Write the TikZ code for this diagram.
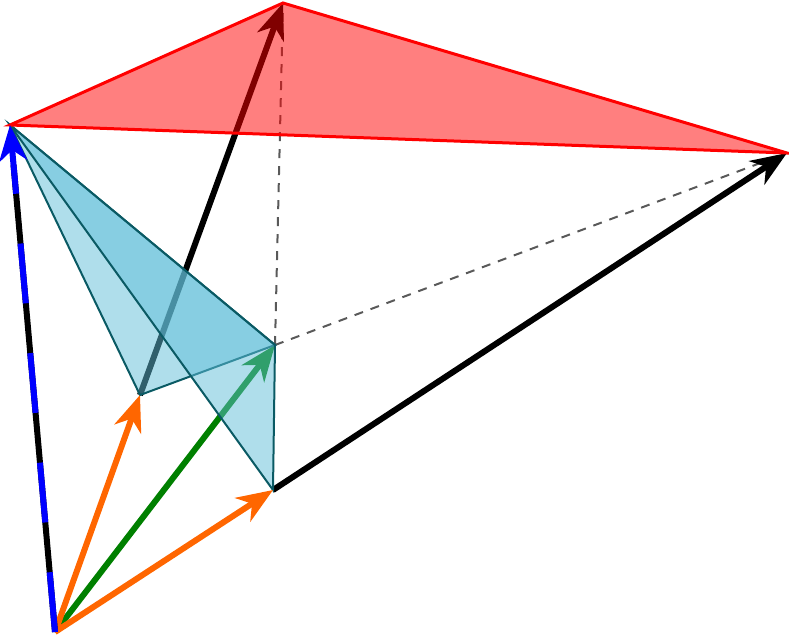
\documentclass[tikz,border=0pt]{standalone}
\usetikzlibrary{arrows.meta}
\definecolor{facefill}{RGB}{96,190,216}
\definecolor{faceline}{RGB}{10,90,100}
\definecolor{vecorange}{RGB}{255,102,0}
\begin{document}
\begin{tikzpicture}[x=1pt, y=-1pt,
        vec/.style={line width=6pt, -{Stealth[length=36pt, width=28pt, inset=11pt]}},
        face/.style={draw=faceline, line width=2pt, fill=facefill, fill opacity=0.5},
        guide/.style={draw=black!65, line width=2pt, dash pattern=on 9pt off 8pt}
    ]
        \useasboundingbox (0,0) rectangle (789,638);
        \coordinate (o) at (55,632);
        \coordinate (a) at (10,125);
        \coordinate (p) at (283,3);
        \coordinate (q) at (787,153);
        \coordinate (b) at (140,395);
        \coordinate (c) at (273,490);
        \coordinate (g) at (275,345);

        \draw[guide] (g) -- (p);
        \draw[guide] (g) -- (q);
        \draw[vec, black] (b) -- (p);
        \draw[vec, black] (c) -- (q);
        \draw[vec, green!50!black] (o) -- (g);
        \draw[face] (a) -- (b) -- (g) -- cycle;
        \draw[face] (a) -- (c) -- (g) -- cycle;
        \draw[line width=3pt, red, fill=red, fill opacity=0.5] (a) -- (p) -- (q) -- cycle;
        \draw[vec, vecorange] (o) -- (b);
        \draw[vec, vecorange] (o) -- (c);
        \draw[line width=6pt, black, shorten >=40pt] (o) -- (a);
        \draw[vec, blue, dash pattern=on 60pt off 50pt] (o) -- (a);
    \end{tikzpicture}
\end{document}
